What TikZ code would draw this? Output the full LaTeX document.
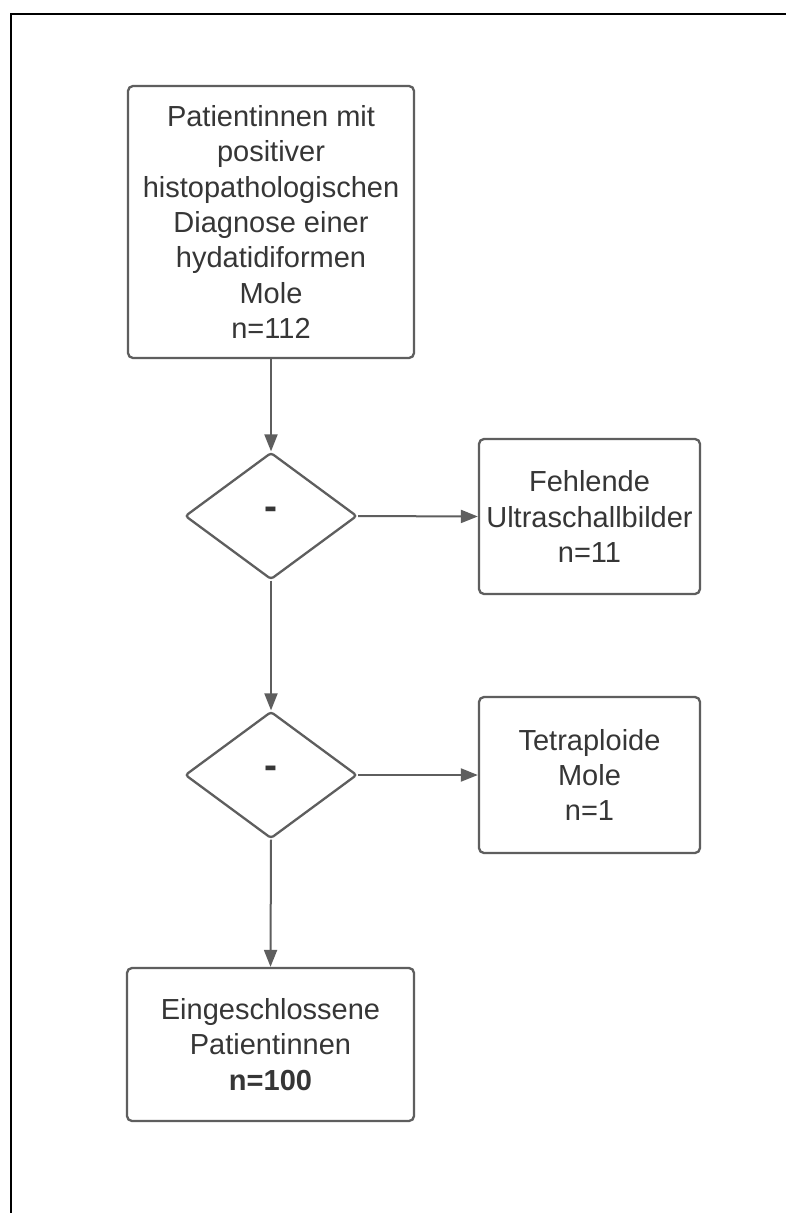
\documentclass[tikz,border=0pt]{standalone}
\usepackage{fontspec}
\setmainfont{Liberation Sans}
\usetikzlibrary{shapes.geometric,arrows.meta}
\definecolor{linegray}{HTML}{5E5E5E}
\definecolor{textgray}{HTML}{363636}
\begin{document}
\begin{tikzpicture}[x=1pt,y=-1pt,
  box/.style={draw=linegray, line width=2.3pt, rounded corners=5pt, align=center,
    text=textgray, font=\fontsize{29}{35.3}\selectfont, inner sep=0pt},
  decision/.style={shape=diamond, draw=linegray, line width=2.3pt, rounded corners=3pt,
    inner sep=0pt, minimum width=172pt, minimum height=127pt, text=textgray,
    font=\fontsize{39}{40}\selectfont\bfseries},
  flow/.style={draw=linegray, line width=2pt, -{Triangle[length=17pt,width=13pt]}},
  frame/.style={draw=black, line width=2pt}]
\useasboundingbox (0,0) rectangle (786,1213);
\fill[white] (0,0) rectangle (786,1213);
\draw[frame] (10.5,1213) -- (10.5,13.5) -- (786,13.5);

\node[box, minimum width=286pt, minimum height=272pt] (start) at (271,222)
  {Patientinnen mit\\positiver\\histopathologischen\\Diagnose einer\\hydatidiformen\\Mole\\n=112};
\node[decision] (d1) at (271,516) {\raisebox{5pt}{-}};
\node[box, minimum width=221pt, minimum height=155pt] (miss) at (589.5,516.5)
  {Fehlende\\Ultraschallbilder\\n=11};
\node[decision] (d2) at (271,775) {\raisebox{5pt}{-}};
\node[box, minimum width=221pt, minimum height=156pt] (tetra) at (589.5,775)
  {Tetraploide\\Mole\\n=1};
\node[box, minimum width=287pt, minimum height=153pt] (incl) at (270.5,1044.5)
  {Eingeschlossene\\Patientinnen\\\textbf{n=100}};

\draw[flow] (start.south) -- (d1.north);
\draw[flow] (d1.east) -- (miss.west);
\draw[flow] (d1.south) -- (d2.north);
\draw[flow] (d2.east) -- (tetra.west);
\draw[flow] (d2.south) -- (incl.north);
\end{tikzpicture}
\end{document}
